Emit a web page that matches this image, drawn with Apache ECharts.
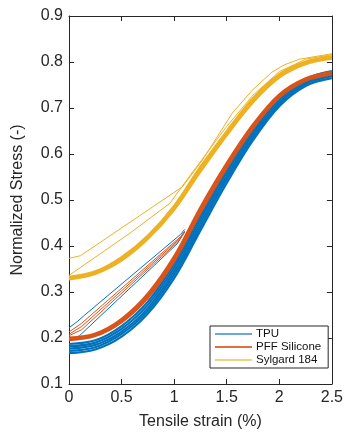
<!DOCTYPE html>
<html>
<head>
<meta charset="utf-8">
<script src="https://cdn.jsdelivr.net/npm/echarts@6/dist/echarts.min.js"></script>
<style>
  html, body { margin: 0; padding: 0; background: #fff; }
  #chart { width: 346px; height: 436px; }
</style>
</head>
<body>
<div id="chart"></div>
<script>
// strain samples (%) shared by the repeated-cycle curves
const strain = [0, 0.25, 0.5, 0.75, 1, 1.25, 1.5, 1.75, 2, 2.25, 2.5]

// TPU – repeated cycles (thick band)
const tpuCycles = [
  [0.167, 0.175, 0.203, 0.253, 0.330, 0.434, 0.537, 0.630, 0.704, 0.748, 0.765],
  [0.172, 0.180, 0.209, 0.259, 0.338, 0.442, 0.545, 0.636, 0.709, 0.752, 0.769],
  [0.177, 0.185, 0.214, 0.265, 0.345, 0.450, 0.552, 0.642, 0.713, 0.755, 0.772],
  [0.182, 0.190, 0.220, 0.272, 0.353, 0.458, 0.560, 0.648, 0.718, 0.759, 0.776],
  [0.187, 0.195, 0.226, 0.279, 0.361, 0.466, 0.567, 0.654, 0.723, 0.763, 0.780]
]
// TPU – first loading paths [strain, stress]
const tpuFirst = [
  [[0, 0.222], [0.08, 0.236], [0.15, 0.250], [1.06, 0.425], [1.10, 0.436]],
  [[0, 0.195], [0.10, 0.205], [1.03, 0.405], [1.10, 0.432]]
]

// PFF Silicone
const pffCycles = [
  [0.195, 0.204, 0.234, 0.287, 0.366, 0.471, 0.569, 0.655, 0.722, 0.759, 0.773],
  [0.198, 0.207, 0.238, 0.292, 0.372, 0.478, 0.575, 0.660, 0.726, 0.762, 0.776],
  [0.201, 0.210, 0.242, 0.297, 0.378, 0.485, 0.581, 0.665, 0.730, 0.765, 0.779]
]
const pffFirst = [
  [[0, 0.213], [0.12, 0.232], [1.06, 0.420], [1.10, 0.432]],
  [[0, 0.208], [0.12, 0.225], [1.05, 0.415], [1.10, 0.430]],
  [[0, 0.205], [0.12, 0.218], [1.04, 0.410], [1.10, 0.430]]
]

// Sylgard 184
const sylCycles = [
  [0.327, 0.339, 0.368, 0.415, 0.478, 0.561, 0.640, 0.712, 0.766, 0.795, 0.807],
  [0.330, 0.342, 0.372, 0.419, 0.483, 0.567, 0.645, 0.717, 0.770, 0.798, 0.810],
  [0.333, 0.345, 0.376, 0.423, 0.488, 0.573, 0.650, 0.722, 0.774, 0.801, 0.813]
]
const sylFirst = [
  [[0, 0.373], [0.11, 0.379], [1.08, 0.529], [1.27, 0.587], [1.55, 0.688], [1.74, 0.738], [1.93, 0.778], [2.05, 0.794], [2.19, 0.806], [2.5, 0.818]],
  [[0, 0.336], [0.58, 0.428], [0.96, 0.493], [1.16, 0.556], [1.5, 0.660], [1.75, 0.728], [2.0, 0.779], [2.25, 0.806], [2.5, 0.816]]
]

const xTicks = { min: 0, max: 2.5, interval: 0.5 }
const yTicks = { min: 0.1, max: 0.9, interval: 0.1 }

// MATLAB default colours
const cTPU = '#0072BD'
const cPFF = '#D95319'
const cSYL = '#EDB120'
const axisColor = '#262626'
const font = 'Liberation Sans'

const chart = echarts.init(document.getElementById('chart'))

function cycleSeries(name, color, curves, width) {
  return curves.map(c => ({
    name: name,
    type: 'line',
    smooth: 0.35,
    showSymbol: false,
    data: strain.map((s, i) => [s, c[i]]),
    lineStyle: { color: color, width: width },
    itemStyle: { color: color }
  }))
}

function firstSeries(name, color, paths) {
  return paths.map(p => ({
    name: name,
    type: 'line',
    showSymbol: false,
    data: p,
    lineStyle: { color: color, width: 1 },
    itemStyle: { color: color }
  }))
}

const tickStyle = { show: true, inside: true, length: 5, lineStyle: { color: axisColor } }
const lineStyle = { show: true, onZero: false, lineStyle: { color: axisColor, width: 1 } }

const option = {
  animation: false,
  textStyle: { fontFamily: font },
  grid: { left: 69, right: 13, top: 16, bottom: 52 },
  legend: {
    orient: 'vertical',
    left: 210,
    top: 326,
    padding: [2, 7, 2, 5],
    itemGap: 1,
    itemWidth: 37,
    itemHeight: 2,
    icon: 'rect',
    backgroundColor: '#fff',
    borderColor: axisColor,
    borderWidth: 1,
    borderRadius: 0,
    textStyle: { fontFamily: font, fontSize: 11.5, color: '#111', padding: [0, 0, 0, -1] },
    data: [
      { name: 'TPU', itemStyle: { color: '#6aa9da' } },
      { name: 'PFF Silicone', itemStyle: { color: '#e0703e' } },
      { name: 'Sylgard 184', itemStyle: { color: '#f2d27f' } }
    ]
  },
  xAxis: [{
    type: 'value',
    ...xTicks,
    name: 'Tensile strain (%)',
    nameLocation: 'middle',
    nameGap: 30,
    nameTextStyle: { fontFamily: font, fontSize: 16, color: axisColor },
    axisLine: lineStyle,
    axisTick: tickStyle,
    splitLine: { show: false },
    axisLabel: { fontFamily: font, fontSize: 16, color: axisColor, margin: 6 }
  }, {
    type: 'value',
    ...xTicks,
    position: 'top',
    axisLine: lineStyle,
    axisTick: tickStyle,
    splitLine: { show: false },
    axisLabel: { show: false }
  }],
  yAxis: [{
    type: 'value',
    ...yTicks,
    name: 'Normalized Stress (-)',
    nameLocation: 'middle',
    nameGap: 43,
    nameTextStyle: { fontFamily: font, fontSize: 16, color: axisColor },
    axisLine: lineStyle,
    axisTick: tickStyle,
    splitLine: { show: false },
    axisLabel: { fontFamily: font, fontSize: 16, color: axisColor, margin: 6 }
  }, {
    type: 'value',
    ...yTicks,
    position: 'right',
    axisLine: lineStyle,
    axisTick: tickStyle,
    splitLine: { show: false },
    axisLabel: { show: false }
  }],
  series: [
    ...firstSeries('TPU', cTPU, tpuFirst),
    ...cycleSeries('TPU', cTPU, tpuCycles, 2.2),
    ...firstSeries('PFF Silicone', cPFF, pffFirst),
    ...cycleSeries('PFF Silicone', cPFF, pffCycles, 2),
    ...firstSeries('Sylgard 184', cSYL, sylFirst),
    ...cycleSeries('Sylgard 184', cSYL, sylCycles, 2)
  ]
}

chart.setOption(option)
</script>
</body>
</html>
